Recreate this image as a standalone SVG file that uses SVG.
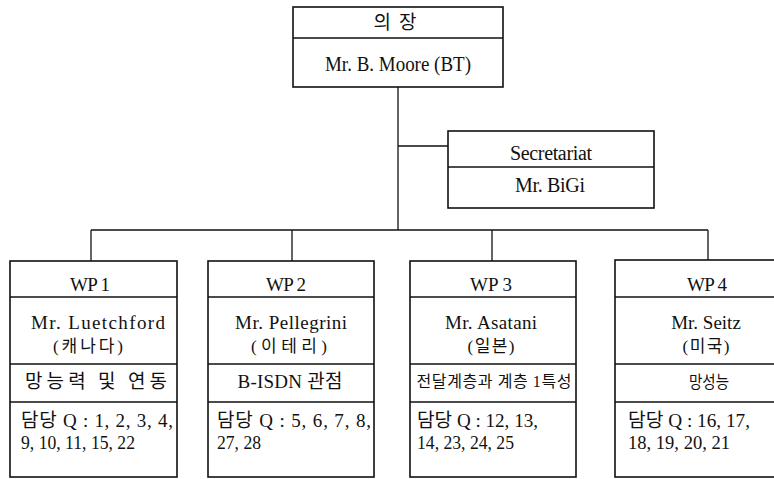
<svg xmlns="http://www.w3.org/2000/svg" width="774" height="479" viewBox="0 0 774 479">
  <style>
    .box { fill: #fff; stroke: #111; stroke-width: 1.6; }
    .div { stroke: #111; stroke-width: 1.4; fill: none; }
    .wire { stroke: #111; stroke-width: 1.3; fill: none; }
    text { font-family: "Liberation Serif", "Noto Sans CJK KR", serif; fill: #111; }
    .c { text-anchor: middle; }
    .s { text-anchor: start; }
    .k { font-family: "Noto Sans CJK KR", "Liberation Serif", sans-serif; }
    .q { font-size: 19px; }
  </style>
  <rect width="774" height="479" fill="#fff"/>

  <!-- connectors -->
  <g id="connectors">
    <line class="wire" x1="398" y1="87" x2="398" y2="230"/>
    <line class="wire" x1="398" y1="146" x2="448" y2="146"/>
    <line class="wire" x1="91" y1="230" x2="708" y2="230"/>
    <line class="wire" x1="91" y1="230" x2="91" y2="261"/>
    <line class="wire" x1="292" y1="230" x2="292" y2="261"/>
    <line class="wire" x1="492" y1="230" x2="492" y2="261"/>
    <line class="wire" x1="708" y1="230" x2="708" y2="260"/>
  </g>

  <!-- chair -->
  <g id="chair">
    <rect class="box" x="293" y="7" width="210" height="80"/>
    <line class="div" x1="293" y1="38" x2="503" y2="38"/>
    <text class="c k" x="395" y="29" font-size="19" textLength="43">의 장</text>
    <text class="c" x="398" y="71" font-size="20" textLength="146" lengthAdjust="spacingAndGlyphs">Mr. B. Moore (BT)</text>
  </g>

  <!-- secretariat -->
  <g id="secretariat">
    <rect class="box" x="448" y="131" width="206" height="77"/>
    <line class="div" x1="448" y1="167" x2="654" y2="167"/>
    <text class="c" x="551" y="160" font-size="20" textLength="82">Secretariat</text>
    <text class="c" x="550" y="192" font-size="20" textLength="70">Mr. BiGi</text>
  </g>

  <!-- working party 1 -->
  <g id="wp1">
    <rect class="box" x="10" y="261" width="167" height="216"/>
    <line class="div" x1="10" y1="297" x2="177" y2="297"/>
    <line class="div" x1="10" y1="364" x2="177" y2="364"/>
    <line class="div" x1="10" y1="402" x2="177" y2="402"/>
    <text class="c" x="90" y="291" font-size="19" textLength="40">WP 1</text>
    <text class="c" x="98" y="329" font-size="19" textLength="134">Mr. Luetchford</text>
    <text class="c" x="88" y="352" font-size="17" textLength="70">(캐나다)</text>
    <text class="c k" x="96" y="388" font-size="19" textLength="142">망능력 및 연동</text>
    <text class="s q" x="21" y="427" textLength="152">담당 Q : 1, 2, 3, 4,</text>
    <text class="s q" x="21" y="449" textLength="114" lengthAdjust="spacingAndGlyphs">9, 10, 11, 15, 22</text>
  </g>

  <!-- working party 2 -->
  <g id="wp2">
    <rect class="box" x="208" y="261" width="166" height="216"/>
    <line class="div" x1="208" y1="297" x2="374" y2="297"/>
    <line class="div" x1="208" y1="364" x2="374" y2="364"/>
    <line class="div" x1="208" y1="402" x2="374" y2="402"/>
    <text class="c" x="286" y="291" font-size="19" textLength="40">WP 2</text>
    <text class="c" x="291" y="329" font-size="19" textLength="112">Mr. Pellegrini</text>
    <text class="c" x="289" y="352" font-size="17" textLength="76">(이테리)</text>
    <text class="c" x="290" y="388" font-size="19" textLength="105">B-ISDN 관점</text>
    <text class="s q" x="217" y="427" textLength="154">담당 Q : 5, 6, 7, 8,</text>
    <text class="s q" x="217" y="449" textLength="44" lengthAdjust="spacingAndGlyphs">27, 28</text>
  </g>

  <!-- working party 3 -->
  <g id="wp3">
    <rect class="box" x="410" y="261" width="166" height="216"/>
    <line class="div" x1="410" y1="297" x2="576" y2="297"/>
    <line class="div" x1="410" y1="364" x2="576" y2="364"/>
    <line class="div" x1="410" y1="402" x2="576" y2="402"/>
    <text class="c" x="491" y="291" font-size="19" textLength="42">WP 3</text>
    <text class="c" x="491" y="329" font-size="19" textLength="92">Mr. Asatani</text>
    <text class="c" x="491" y="352" font-size="17" textLength="47">(일본)</text>
    <text class="c" x="494" y="387" font-size="16" textLength="155">전달계층과 계층 1특성</text>
    <text class="s q" x="417" y="427" textLength="121" lengthAdjust="spacingAndGlyphs">담당 Q : 12, 13,</text>
    <text class="s q" x="417" y="449" textLength="97" lengthAdjust="spacingAndGlyphs">14, 23, 24, 25</text>
  </g>

  <!-- working party 4 -->
  <g id="wp4">
    <rect class="box" x="615" y="260" width="190" height="217"/>
    <line class="div" x1="615" y1="297" x2="805" y2="297"/>
    <line class="div" x1="615" y1="364" x2="805" y2="364"/>
    <line class="div" x1="615" y1="402" x2="805" y2="402"/>
    <text class="c" x="707" y="291" font-size="19" textLength="40">WP 4</text>
    <text class="c" x="706" y="329" font-size="19">Mr. Seitz</text>
    <text class="c" x="706" y="352" font-size="17" textLength="47">(미국)</text>
    <text class="c k" x="709" y="388" font-size="17" textLength="40" lengthAdjust="spacingAndGlyphs">망성능</text>
    <text class="s q" x="628" y="427" textLength="122" lengthAdjust="spacingAndGlyphs">담당 Q : 16, 17,</text>
    <text class="s q" x="628" y="449" textLength="102" lengthAdjust="spacingAndGlyphs">18, 19, 20, 21</text>
  </g>
</svg>
